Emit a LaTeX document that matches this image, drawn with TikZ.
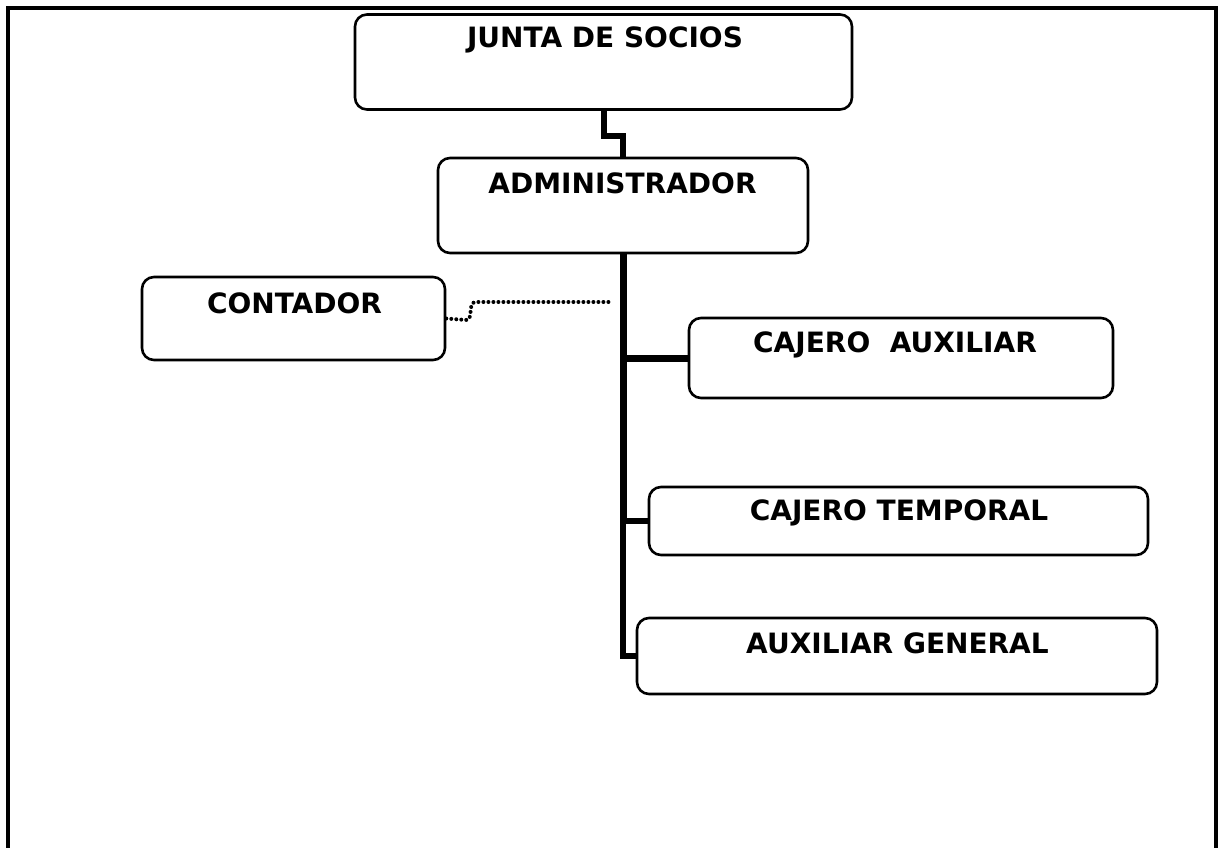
\documentclass[tikz,border=0pt]{standalone}
\usepackage{fontspec}
\setmainfont{DejaVu Sans}
\begin{document}
\begin{tikzpicture}[x=1pt,y=-1pt,
  box/.style={draw=black,line width=2.6pt,rounded corners=12pt,inner sep=0pt},
  lbl/.style={anchor=base,inner sep=0pt,font=\fontsize{28}{32}\selectfont\bfseries},
  link/.style={line width=6pt},
  dotlink/.style={line width=4pt,line cap=round,dash pattern=on 0pt off 5pt}]
\useasboundingbox (0,0) rectangle (1220,848);
% frame
\draw[line width=3.6pt] (8,848) -- (8,8) -- (1216,8) -- (1216,848);
% boxes
\node[box,minimum width=497pt,minimum height=95pt] (junta) at (603.5,62) {};
\node[lbl] (juntat) at (605,48) {JUNTA DE SOCIOS};
\node[box,minimum width=370pt,minimum height=95pt] (admin) at (623,205.5) {};
\node[lbl] (admint) at (622.5,193) {ADMINISTRADOR};
\node[box,minimum width=303pt,minimum height=83pt] (cont) at (293.5,318.5) {};
\node[lbl] (contt) at (294.5,313) {CONTADOR};
\node[box,minimum width=424pt,minimum height=80pt] (caux) at (901,358) {};
\node[lbl] (cauxt) at (895,352) {CAJERO\ \ AUXILIAR};
\node[box,minimum width=499pt,minimum height=68pt] (ctemp) at (898.5,521) {};
\node[lbl] (ctempt) at (899,520) {CAJERO TEMPORAL};
\node[box,minimum width=520pt,minimum height=76pt] (auxg) at (897,656) {};
\node[lbl] (auxgt) at (897.5,653) {AUXILIAR GENERAL};
% connectors
\draw[link] (junta.south) -- ++(0,25) -| (admin.north);
\draw[line width=7pt] (admin.south) -- (admin.south |- ctemp.west);
\draw[link] (admin.south |- ctemp.west) |- (auxg.west);
\draw[line width=7pt] (admin.south |- caux.west) -- (caux.west);
\draw[link] (admin.south |- ctemp.west) -- (ctemp.west);
\coordinate (dend) at (611,302);
\draw[dotlink] (cont.east) -- (466,320) .. controls (474,320) and (467,302) .. (476,302) -- (dend);
\end{tikzpicture}
\end{document}
